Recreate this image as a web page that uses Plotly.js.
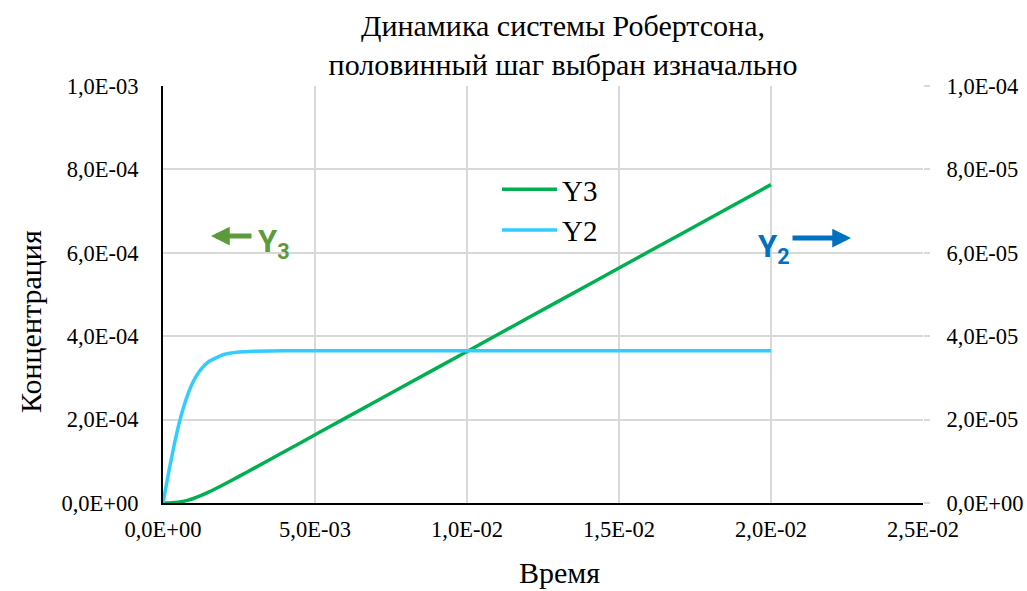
<!DOCTYPE html>
<html>
<head>
<meta charset="utf-8">
<script src="https://cdn.plot.ly/plotly-3.0.1.min.js"></script>
<style>html,body{margin:0;padding:0;background:#fff;}#chart{width:1027px;height:591px;}</style>
</head>
<body>
<div id="chart"></div>
<script>
// Time points (x axis, "Время")
const time = [0, 0.0002, 0.0004, 0.0006, 0.0008, 0.001, 0.0012, 0.0015, 0.002, 0.0025, 0.003, 0.004, 0.005, 0.006, 0.008, 0.01, 0.012, 0.014, 0.016, 0.018, 0.02];
// Y3 concentration (left axis)
const y3 = [0, 1.3e-7, 9.6e-7, 2.94e-6, 6.28e-6, 1.08e-5, 1.64e-5, 2.61e-5, 4.44e-5, 6.38e-5, 8.36e-5, 1.235e-4, 1.635e-4, 2.035e-4, 2.835e-4, 3.635e-4, 4.435e-4, 5.235e-4, 6.035e-4, 6.835e-4, 7.635e-4];
// Y2 concentration (right axis)
const y2 = [0, 7.87e-6, 1.504e-5, 2.105e-5, 2.571e-5, 2.918e-5, 3.159e-5, 3.388e-5, 3.561e-5, 3.621e-5, 3.641e-5, 3.650e-5, 3.651e-5, 3.651e-5, 3.651e-5, 3.651e-5, 3.651e-5, 3.651e-5, 3.651e-5, 3.651e-5, 3.651e-5];

const xTickVals = [0, 0.005, 0.01, 0.015, 0.02, 0.025];
const xTickText = ['0,0E+00', '5,0E-03', '1,0E-02', '1,5E-02', '2,0E-02', '2,5E-02'];
const yTickVals = [0, 2e-4, 4e-4, 6e-4, 8e-4, 1e-3];
const yTickText = ['0,0E+00', '2,0E-04', '4,0E-04', '6,0E-04', '8,0E-04', '1,0E-03'];
const y2TickVals = [0, 2e-5, 4e-5, 6e-5, 8e-5, 1e-4];
const y2TickText = ['0,0E+00', '2,0E-05', '4,0E-05', '6,0E-05', '8,0E-05', '1,0E-04'];

const serif = '"Liberation Serif", "Times New Roman", "DejaVu Serif", serif';
const W = 1027, H = 591;
const mL = 163, mR = 104, mT = 86, mB = 88;
const pw = W - mL - mR, ph = H - mT - mB;
const px = v => (v - mL) / pw;         // pixel -> paper x
const py = v => (H - mB - v) / ph;     // pixel -> paper y

const traces = [
  {x: time, y: y3, name: 'Y3', mode: 'lines', yaxis: 'y', legendgroup: 'a',
   line: {color: '#00B050', width: 3.5, shape: 'spline', smoothing: 0.5}},
  {x: time, y: y2, name: 'Y2', mode: 'lines', yaxis: 'y2', legendgroup: 'b',
   line: {color: '#33CCFF', width: 3.5, shape: 'spline', smoothing: 0.5}}
];

const green = '#5B9B3C', blue = '#0070C0';
const layout = {
  width: W, height: H,
  margin: {l: mL, r: mR, t: mT, b: mB},
  paper_bgcolor: '#fff', plot_bgcolor: '#fff',
  font: {family: serif, size: 22, color: '#000'},
  title: {text: 'Динамика системы Робертсона,<br>половинный шаг выбран изначально',
          font: {family: serif, size: 30, color: '#000'},
          x: 563 / W, xref: 'container', xanchor: 'center',
          y: 1 - 36 / H, yref: 'container', yanchor: 'middle'},
  xaxis: {range: [0, 0.025], tickvals: xTickVals, ticktext: xTickText,
          showgrid: true, gridcolor: '#D9D9D9', gridwidth: 2, zeroline: false,
          showline: true, linecolor: '#000', linewidth: 2, ticks: '',
          tickfont: {family: serif, size: 22.5}, ticklabelstandoff: 5},
  yaxis: {range: [0, 1e-3], tickvals: yTickVals, ticktext: yTickText,
          showgrid: true, gridcolor: '#D9D9D9', gridwidth: 2, zeroline: false,
          showline: true, linecolor: '#000', linewidth: 2, ticks: '',
          tickfont: {family: serif, size: 22.5}, ticklabelstandoff: 18},
  yaxis2: {range: [0, 1e-4], tickvals: y2TickVals, ticktext: y2TickText,
           overlaying: 'y', side: 'right', showgrid: false, zeroline: false,
           showline: false, ticks: 'outside', ticklen: 6, tickcolor: '#D9D9D9', tickwidth: 2,
           tickfont: {family: serif, size: 22.5}, ticklabelstandoff: 12},
  showlegend: true,
  legend: {x: px(497), y: py(164), xanchor: 'left', yanchor: 'top',
           bgcolor: 'rgba(255,255,255,0)', font: {family: serif, size: 29},
           traceorder: 'grouped', tracegroupgap: 0, itemwidth: 55},
  annotations: [
    // axis titles
    {xref: 'paper', yref: 'paper', x: px(559), y: py(572), xanchor: 'center', yanchor: 'middle',
     borderpad: 0, text: 'Время', showarrow: false, font: {family: serif, size: 30, color: '#000'}},
    {xref: 'paper', yref: 'paper', x: px(30), y: py(322), xanchor: 'center', yanchor: 'middle',
     text: 'Концентрация', textangle: -90, showarrow: false, font: {family: serif, size: 30, color: '#000'}},
    // series arrows
    {xref: 'paper', yref: 'paper', x: px(211), y: py(236), ax: 42, ay: 0,
     text: '', showarrow: true, arrowhead: 2, arrowsize: 0.75, arrowwidth: 5, arrowcolor: green},
    {xref: 'paper', yref: 'paper', x: px(256), y: py(243), xanchor: 'left', yanchor: 'middle',
     text: '<b>Y<sub>3</sub></b>', showarrow: false,
     font: {family: 'Roboto, "Liberation Sans", sans-serif', size: 31, color: green}},
    {xref: 'paper', yref: 'paper', x: px(851), y: py(238), ax: -60, ay: 0,
     text: '', showarrow: true, arrowhead: 2, arrowsize: 0.75, arrowwidth: 5, arrowcolor: blue},
    {xref: 'paper', yref: 'paper', x: px(756), y: py(248), xanchor: 'left', yanchor: 'middle',
     text: '<b>Y<sub>2</sub></b>', showarrow: false,
     font: {family: 'Roboto, "Liberation Sans", sans-serif', size: 31, color: blue}}
  ]
};

Plotly.newPlot('chart', traces, layout, {displayModeBar: false, responsive: false});
</script>
</body>
</html>
